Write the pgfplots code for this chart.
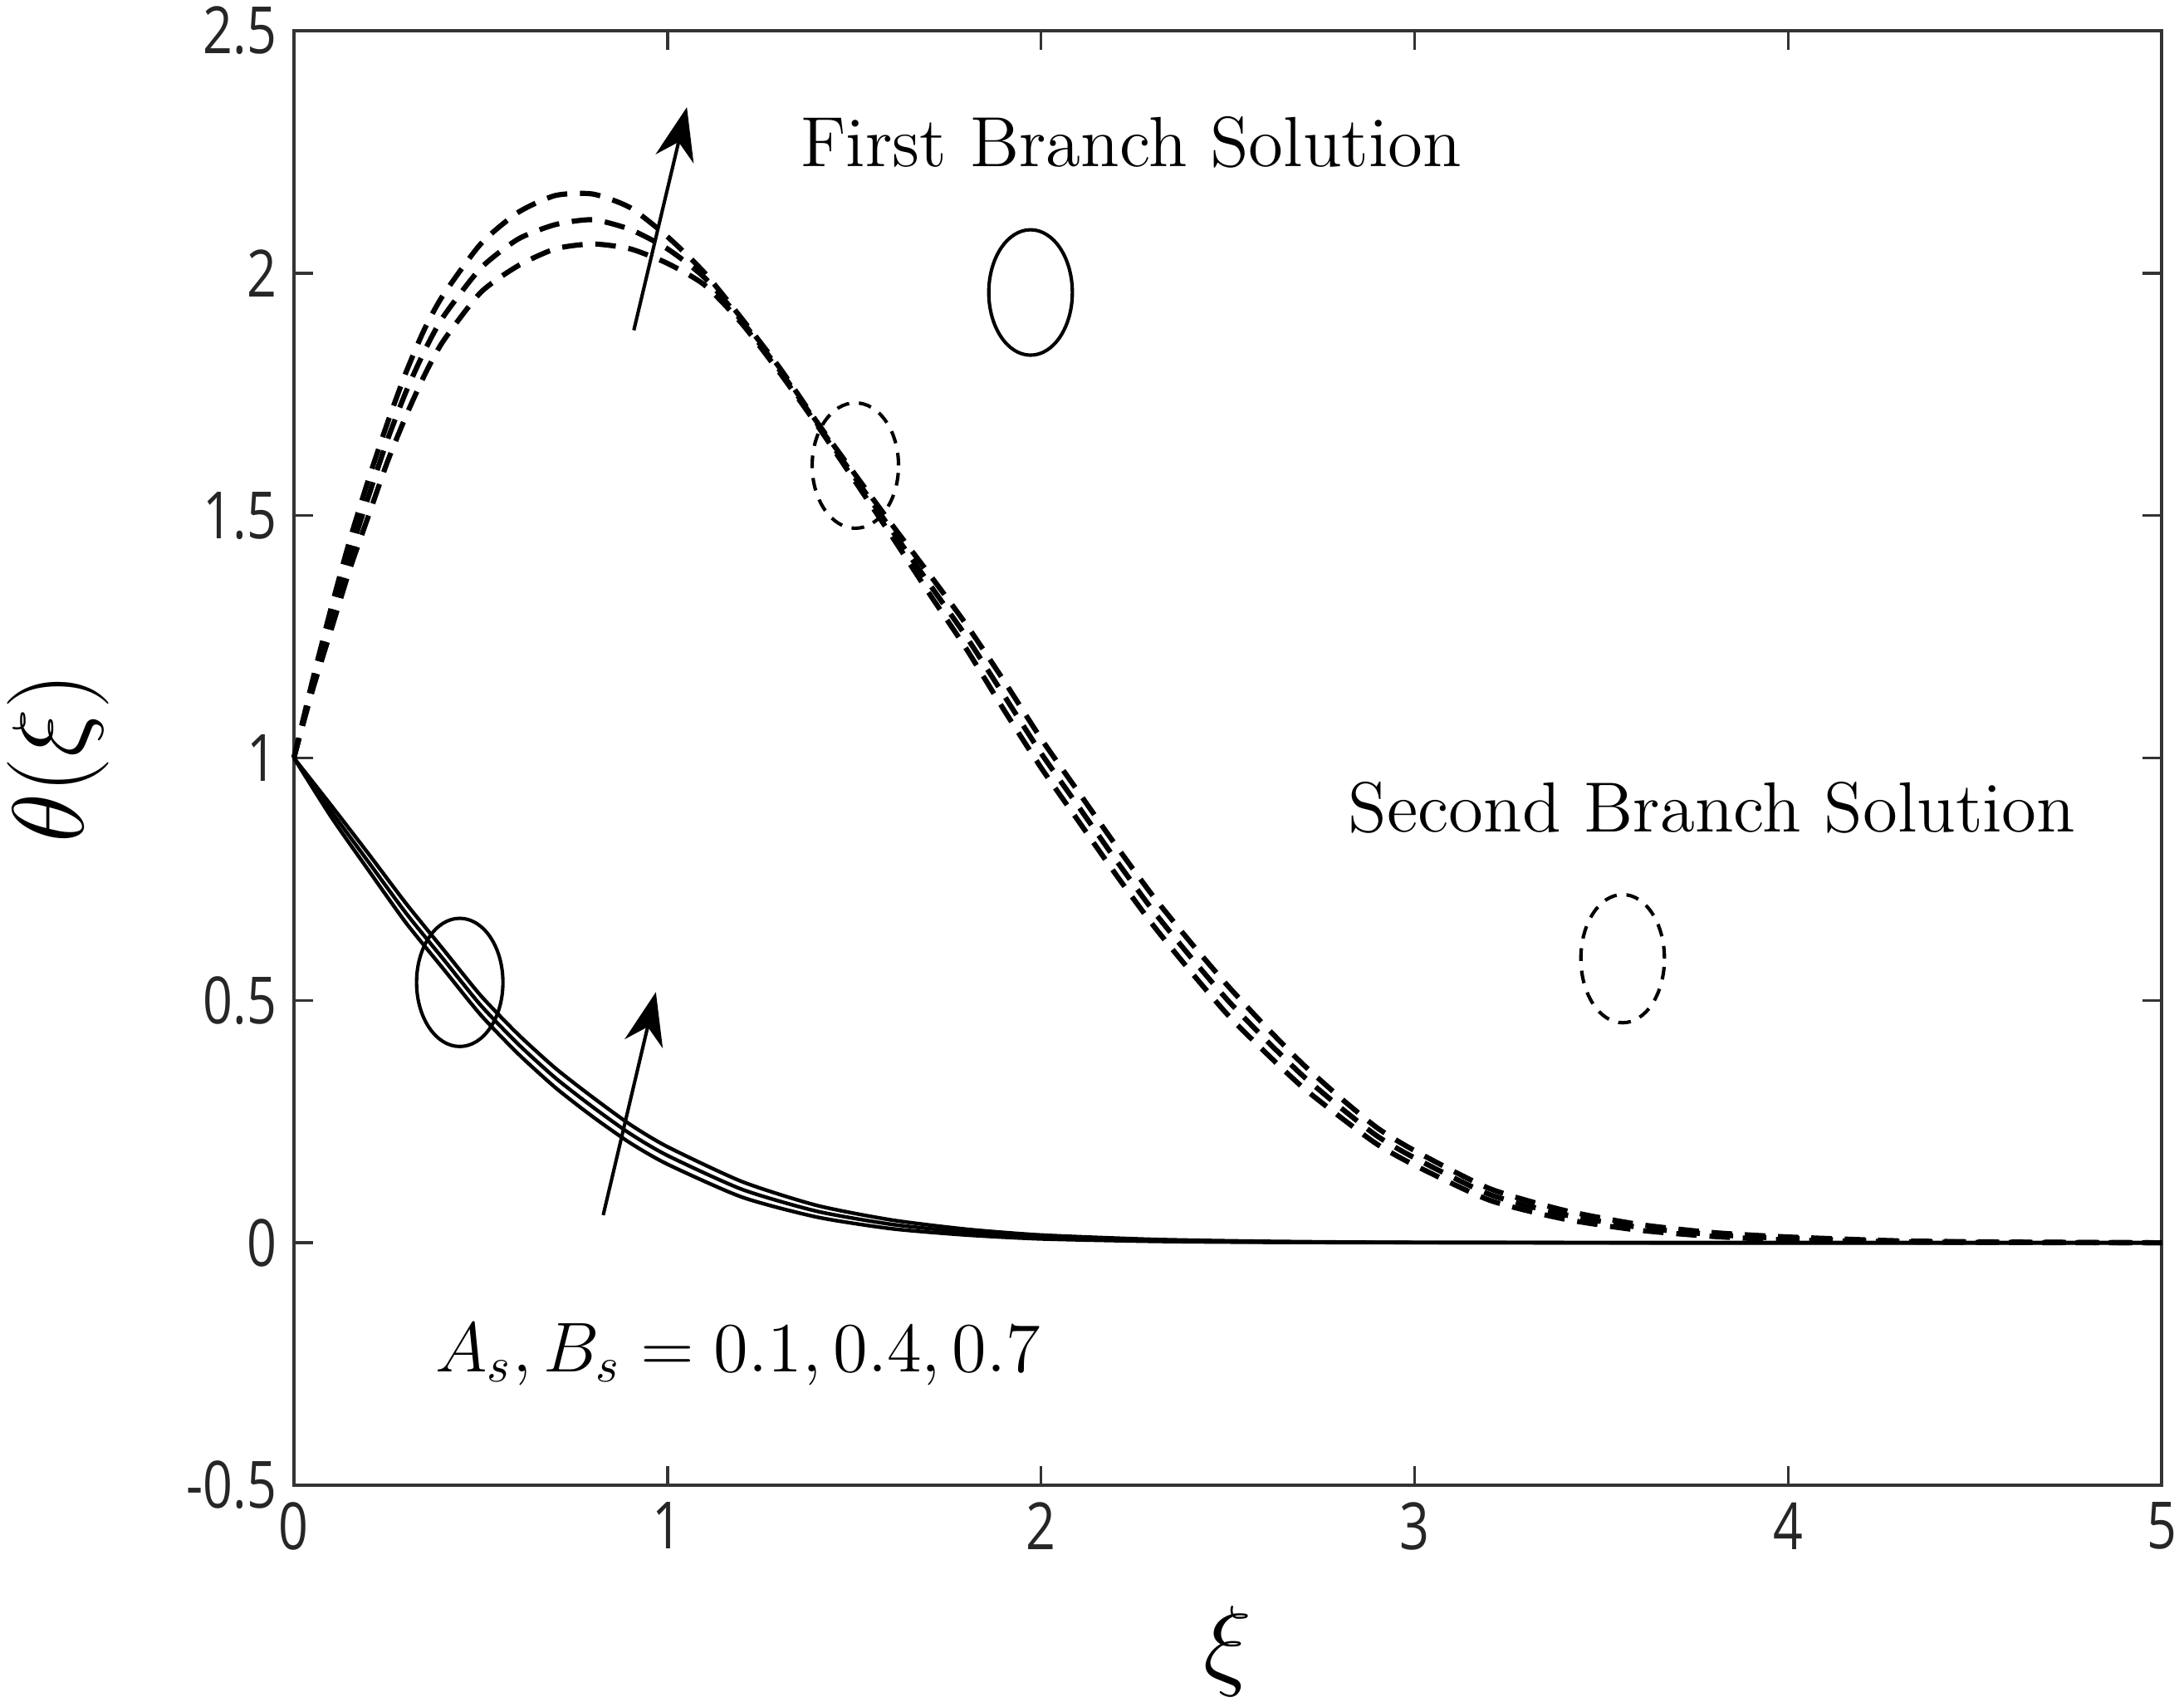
\documentclass[border=0pt]{standalone}
\usepackage{fontspec}
\setsansfont[FakeStretch=0.8]{Open Sans}
\usepackage{pgfplots}
\pgfplotsset{compat=1.18}
\usepackage{pgfplotstable}
\usetikzlibrary{arrows.meta}

\pgfplotstableread{
x L M U
0 1 1 1
0.05 1.14 1.15 1.16
0.1 1.265 1.29 1.31
0.15 1.39 1.42 1.45
0.2 1.50 1.54 1.575
0.25 1.61 1.655 1.69
0.3 1.705 1.755 1.795
0.35 1.79 1.84 1.885
0.4 1.86 1.91 1.955
0.5 1.96 2.01 2.06
0.6 2.015 2.07 2.125
0.7 2.05 2.10 2.16
0.8 2.06 2.11 2.163
0.9 2.05 2.09 2.135
1.0 2.02 2.05 2.075
1.1 1.975 1.99 2.0
1.2 1.895 1.90 1.905
1.3 1.795 1.80 1.805
1.4 1.687 1.69 1.693
1.5 1.573 1.58 1.587
1.6 1.458 1.47 1.482
1.7 1.34 1.36 1.38
1.8 1.225 1.25 1.275
1.9 1.10 1.13 1.16
2.0 0.98 1.01 1.04
2.1 0.87 0.90 0.93
2.2 0.76 0.79 0.82
2.3 0.655 0.685 0.715
2.4 0.56 0.59 0.62
2.5 0.47 0.50 0.53
2.6 0.393 0.42 0.447
2.7 0.321 0.345 0.369
2.8 0.26 0.28 0.30
2.9 0.203 0.22 0.237
3.0 0.16 0.175 0.19
3.2 0.088 0.10 0.112
3.4 0.049 0.058 0.067
3.6 0.026 0.032 0.038
3.8 0.013 0.017 0.021
4.0 0.006 0.009 0.012
4.3 0.002 0.003 0.004
4.6 0.0005 0.001 0.0015
5.0 0 0 0
}\dashed

\pgfplotstableread{
x L M U
0 1 1 1
0.1 0.878 0.89 0.902
0.2 0.768 0.785 0.802
0.3 0.66 0.68 0.70
0.4 0.565 0.585 0.605
0.5 0.47 0.49 0.51
0.6 0.39 0.41 0.43
0.7 0.32 0.34 0.36
0.8 0.26 0.28 0.30
0.9 0.206 0.225 0.244
1.0 0.162 0.18 0.198
1.2 0.094 0.11 0.126
1.4 0.053 0.065 0.077
1.6 0.029 0.038 0.047
1.8 0.016 0.022 0.028
2.0 0.008 0.012 0.016
2.3 0.003 0.005 0.007
2.6 0.001 0.002 0.003
3.0 0.0003 0.0005 0.0007
4.0 0 0 0
5.0 0 0 0
}\solid

\begin{document}
\begin{tikzpicture}
\begin{axis}[
  scale only axis,
  width=134.1mm, height=104.4mm,
  xmin=0, xmax=5, ymin=-0.5, ymax=2.5,
  xtick={0,1,2,3,4,5},
  ytick={-0.5,0,0.5,1,1.5,2,2.5},
  tick align=inside,
  major tick length=1.4mm,
  axis line style={line width=0.6pt, black!80},
  every tick/.style={black!80, line width=0.6pt},
  /pgf/number format/assume math mode=true,
  tick label style={font=\sffamily\fontsize{13.3}{14}\selectfont, black!85},
  xlabel={$\xi$},
  ylabel={$\theta(\xi)$},
  label style={font=\fontsize{20}{22}\selectfont},
  xlabel style={at={(axis description cs:0.5,0)}, anchor=center, yshift=-11.9mm},
  ylabel style={at={(axis description cs:0,0.5)}, anchor=center, yshift=16.9mm},
  clip=false,
]
\addplot[black, line width=1.05pt, dash pattern=on 4.2pt off 2.6pt, smooth, tension=0.4] table[x=x,y=L] {\dashed};
\addplot[black, line width=1.05pt, dash pattern=on 4.2pt off 2.6pt, smooth, tension=0.4] table[x=x,y=M] {\dashed};
\addplot[black, line width=1.05pt, dash pattern=on 4.2pt off 2.6pt, smooth, tension=0.4] table[x=x,y=U] {\dashed};
\addplot[black, line width=0.75pt, smooth, tension=0.4] table[x=x,y=L] {\solid};
\addplot[black, line width=0.75pt, smooth, tension=0.4] table[x=x,y=M] {\solid};
\addplot[black, line width=0.75pt, smooth, tension=0.4] table[x=x,y=U] {\solid};

% ellipses
\draw[black, line width=0.7pt] (axis cs:1.972,1.96) ellipse [x radius=3.0mm, y radius=4.5mm];
\draw[black, line width=0.7pt, dash pattern=on 2.6pt off 2pt] (axis cs:1.503,1.603) ellipse [x radius=3.1mm, y radius=4.5mm];
\draw[black, line width=0.7pt, dash pattern=on 2.6pt off 2pt] (axis cs:3.557,0.586) ellipse [x radius=3.0mm, y radius=4.6mm];
\draw[black, line width=0.7pt] (axis cs:0.444,0.537) ellipse [x radius=3.1mm, y radius=4.6mm];

% arrows
\draw[black, line width=0.7pt, -{Stealth[length=3.8mm, width=2.8mm]}] (axis cs:0.910,1.882) -- (axis cs:1.052,2.342);
\draw[black, line width=0.7pt, -{Stealth[length=3.8mm, width=2.8mm]}] (axis cs:0.828,0.057) -- (axis cs:0.969,0.517);

% texts
\node[font=\fontsize{14.5}{16}\selectfont] at (axis cs:2.241,2.270) {First Branch Solution};
\node[font=\fontsize{14.5}{16}\selectfont] at (axis cs:3.796,0.897) {Second Branch Solution};
\node[font=\fontsize{14.5}{16}\selectfont] at (axis cs:1.189,-0.230) {$A_s, B_s = 0.1, 0.4, 0.7$};
\end{axis}
\pgfresetboundingbox
\path (-21.1mm,-15.9mm) rectangle (135.7mm,106.6mm);
\end{tikzpicture}
\end{document}
